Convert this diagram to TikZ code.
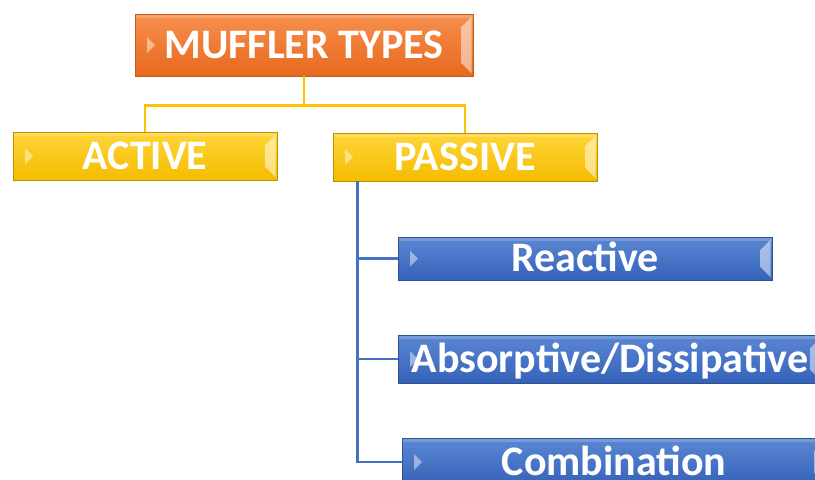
\documentclass[tikz,border=0pt]{standalone}
\usepackage{fontspec}
\setmainfont{Carlito}
\usetikzlibrary{calc}

\definecolor{orangetop}{HTML}{F68F4E}
\definecolor{orangebot}{HTML}{E8691E}
\definecolor{orangeline}{HTML}{C55A11}
\definecolor{goldtop}{HTML}{FFD53A}
\definecolor{goldbot}{HTML}{F5BC00}
\definecolor{goldline}{HTML}{BF9000}
\definecolor{goldwire}{HTML}{FFC000}
\definecolor{bluetop}{HTML}{5B87D3}
\definecolor{bluebot}{HTML}{3462B8}
\definecolor{blueline}{HTML}{2F528F}
\definecolor{bluewire}{HTML}{4472C4}

\tikzset{
  bevel/.style={path picture={
    % left notch
    \fill[white,opacity=.45] ([xshift=9pt,yshift=6pt]path picture bounding box.west)
      -- ([xshift=15pt]path picture bounding box.west)
      -- ([xshift=9pt,yshift=-6pt]path picture bounding box.west) -- cycle;
    % right end
    \fill[white,opacity=.5] ([xshift=-1pt,yshift=-2pt]path picture bounding box.north east)
      -- ([xshift=-9pt,yshift=-10pt]path picture bounding box.north east)
      -- ([xshift=-9pt,yshift=10pt]path picture bounding box.south east)
      -- ([xshift=-1pt,yshift=2pt]path picture bounding box.south east) -- cycle;
    % top edge
    \fill[white,opacity=.18] (path picture bounding box.north west) rectangle ([yshift=-3pt]path picture bounding box.north east);
  }},
  box/.style={draw, line width=0.6pt, inner sep=0pt, text height=20pt, text depth=0pt,
    text=white, font=\bfseries\fontsize{31.5}{36}\selectfont, bevel},
  rootbox/.style={box, draw=orangeline, top color=orangetop, bottom color=orangebot},
  goldbox/.style={box, draw=goldline, top color=goldtop, bottom color=goldbot},
  bluebox/.style={box, draw=blueline, top color=bluetop, bottom color=bluebot},
  goldlink/.style={draw=goldwire, line width=2pt},
  bluelink/.style={draw=bluewire, line width=2pt}
}

\begin{document}
\begin{tikzpicture}[x=0.75pt, y=-0.75pt]

\useasboundingbox (0,0) rectangle (815,479);
\clip (0,0) rectangle (815,479);

% Root
\node[rootbox, minimum width=253.5pt, minimum height=46.5pt] (types) at (304,45) {MUFFLER TYPES};

% Level 1
\node[goldbox, minimum width=198pt, minimum height=36pt] (active) at (145,156) {ACTIVE};
\node[goldbox, minimum width=198pt, minimum height=36pt] (passive) at (465,157) {PASSIVE};

% Level 2
\node[bluebox, minimum width=280.5pt, minimum height=32.25pt] (reactive) at (585,258.5) {Reactive};
\node[bluebox, minimum width=318pt, minimum height=36pt] (absorptive) at (610,359) {Absorptive/Dissipative};
\node[bluebox, minimum width=318pt, minimum height=36pt] (combination) at (614,462) {Combination};

% Links
\coordinate (fork) at ($(types.south)+(0,29)$);
\draw[goldlink] (types.south) -- (fork) -| (active.north);
\draw[goldlink] (fork) -| (passive.north);

\coordinate (trunk) at ($(passive.south west)+(25,0)$);
\draw[bluelink] (trunk) |- (reactive.west);
\draw[bluelink] (trunk) |- (absorptive.west);
\draw[bluelink] (trunk) |- (combination.west);

\end{tikzpicture}
\end{document}
